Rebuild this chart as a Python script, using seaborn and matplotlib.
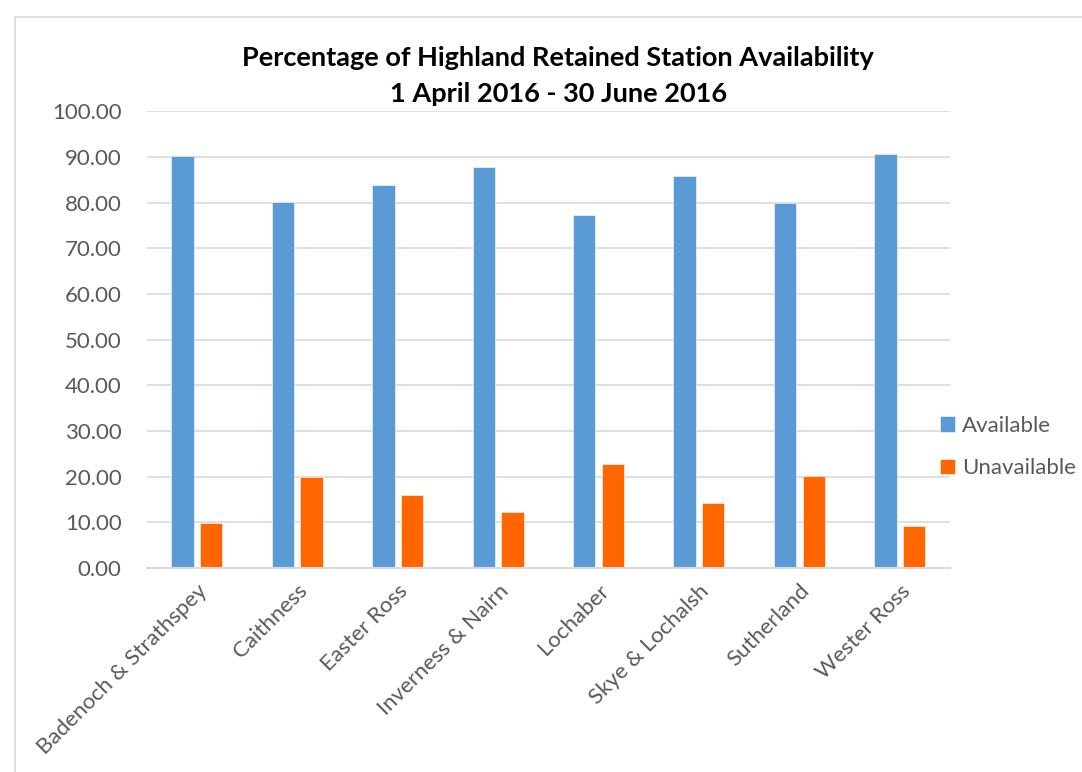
import matplotlib
matplotlib.use("Agg")
import matplotlib.pyplot as plt
import seaborn as sns
import pandas as pd
from matplotlib.patches import Rectangle

regions = ["Badenoch & Strathspey", "Caithness", "Easter Ross", "Inverness & Nairn",
           "Lochaber", "Skye & Lochalsh", "Sutherland", "Wester Ross"]
available = [90.2, 80.1, 83.9, 87.7, 77.3, 85.8, 79.9, 90.7]
unavailable = [9.8, 19.9, 16.1, 12.3, 22.7, 14.2, 20.1, 9.3]
series = ["Available", "Unavailable"]
colors = ["#5B9BD5", "#FF6600"]
yticks = [0, 10, 20, 30, 40, 50, 60, 70, 80, 90, 100]

df = pd.DataFrame({
    "Region": regions * 2,
    "Series": [series[0]] * len(regions) + [series[1]] * len(regions),
    "Value": available + unavailable,
})

sns.set_theme(style="white")
plt.rcParams['font.family'] = ['Lato', 'DejaVu Sans']

fig = plt.figure(figsize=(10.82, 7.72), dpi=100)
ax = fig.add_axes([0.1355, 0.264, 0.7425, 0.592])

sns.barplot(data=df, x="Region", y="Value", hue="Series", palette=colors,
            width=0.57, gap=0.22, ax=ax, edgecolor="white", linewidth=0.4,
            saturation=1, legend=True)

ax.set_ylim(0, 100)
ax.set_xlim(-0.5, len(regions) - 0.5)
ax.set_yticks(yticks)
ax.set_yticklabels([f"{v:.2f}" for v in yticks], fontsize=16, color="#595959")
ax.set_xticks(range(len(regions)))
ax.set_xticklabels(regions, rotation=45, ha="right", rotation_mode="anchor",
                   fontsize=16, color="#595959")
ax.tick_params(axis="x", length=0, pad=9)
ax.tick_params(axis="y", length=0, pad=18)
ax.set_xlabel("")
ax.set_ylabel("")
ax.yaxis.grid(True, color="#D9D9D9", linewidth=1.2)
ax.set_axisbelow(True)
for s in ["left", "right", "top"]:
    ax.spines[s].set_visible(False)
ax.spines["bottom"].set_color("#D9D9D9")
ax.spines["bottom"].set_linewidth(1.5)

handles, labels = ax.get_legend_handles_labels()
ax.legend(handles, labels, loc="center left", bbox_to_anchor=(0.85, 0.421),
          bbox_transform=fig.transFigure, frameon=False, fontsize=16,
          handlelength=0.7, handleheight=0.7, handletextpad=0.3,
          labelspacing=1.0, labelcolor="#595959")

fig.text(0.516, 0.925, "Percentage of Highland Retained Station Availability",
         ha="center", va="center", fontsize=19.5, fontweight="bold", color="black")
fig.text(0.516, 0.878, "1 April 2016 - 30 June 2016",
         ha="center", va="center", fontsize=19.5, fontweight="bold", color="black")

fig.patches.append(Rectangle((15 / 1082, -0.05), 1.2, 1 - 17 / 772 + 0.05,
                             transform=fig.transFigure, fill=False,
                             edgecolor="#D9D9D9", linewidth=1.2))

fig.savefig("out.png", dpi=100)
